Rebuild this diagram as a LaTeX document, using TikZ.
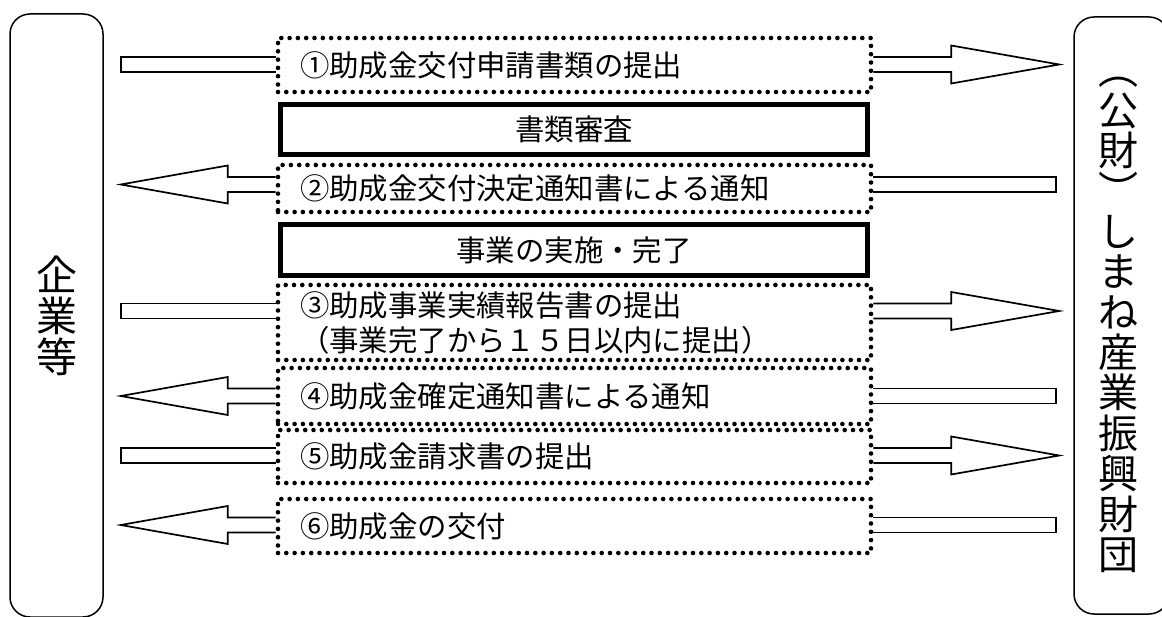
\documentclass[tikz,border=0pt]{standalone}
\usepackage{fontspec}
\setmainfont{Noto Sans CJK JP}
\usetikzlibrary{calc}
\tikzset{
	party/.style={draw, line width=1.5pt, rounded corners=20pt, align=center,
		font=\fontsize{41}{41}\selectfont},
	stepbox/.style={draw, line width=4.6pt, dash pattern=on 0pt off 8.3pt, line cap=round,
		text width=549pt, inner xsep=22pt, inner ysep=2pt, align=left,
		font=\fontsize{29.4}{35}\selectfont},
	checkbox/.style={draw, line width=5.5pt, minimum width=587pt, align=center,
		font=\fontsize{29.4}{35}\selectfont},
	shaft/.style={draw, line width=1.7pt, line join=miter}
}

\begin{document}
\begin{tikzpicture}[x=1pt, y=-1pt]
\useasboundingbox (0,0) rectangle (1162,617);
% the two parties
	\node[party, minimum width=93pt, minimum height=603pt] (firm) at (56.5,315.5) {企\\業\\等};
	\node[party, minimum width=95pt, minimum height=597pt] (fund) at (1121.5,315.5) {};
	\node[font=\fontsize{40}{40.4}\selectfont, align=center] (fundname) at (1118,325)
		{︵\\公\\財\\︶\\し\\ま\\ね\\産\\業\\振\\興\\財\\団};

% steps in the middle
	\node[stepbox, minimum height=54pt] (s1) at (574.5,65) {①助成金交付申請書類の提出};
	\node[checkbox, minimum height=50pt] (c1) at (574,129.5) {書類審査};
	\node[stepbox, minimum height=47pt] (s2) at (574.5,188.5) {②助成金交付決定通知書による通知};
	\node[checkbox, minimum height=51pt] (c2) at (574,250) {事業の実施・完了};
	\node[stepbox, minimum height=75pt] (s3) at (574.5,322.5) {③助成事業実績報告書の提出\\（事業完了から１５日以内に提出）};
	\node[stepbox, minimum height=56pt] (s4) at (574.5,396) {④助成金確定通知書による通知};
	\node[stepbox, minimum height=53pt] (s5) at (574.5,456.5) {⑤助成金請求書の提出};
	\node[stepbox, minimum height=54pt] (s6) at (574.5,526) {⑥助成金の交付};

% company -> fund
	\foreach \row/\y in {1/64.5, 3/311, 5/455.5} {
		\coordinate (a\row) at (0,\y);
		\draw[shaft] ($(s\row.west |- a\row)+(0,-7.5)$) -- ($(firm.east |- a\row)+(17,-7.5)$)
			-- ++(0,15) -- ($(s\row.west |- a\row)+(0,7.5)$);
		\draw[shaft] ($(s\row.east |- a\row)+(0,-7.5)$) -- ($(fund.west |- a\row)+(-122,-7.5)$)
			-- ++(0,-11.5) -- ($(fund.west |- a\row)+(-14,0)$) -- ($(fund.west |- a\row)+(-122,19)$)
			-- ++(0,-11.5) -- ($(s\row.east |- a\row)+(0,7.5)$);
	}
% fund -> company
	\foreach \row/\y in {2/184.5, 4/396, 6/525} {
		\coordinate (a\row) at (0,\y);
		\draw[shaft] ($(s\row.west |- a\row)+(0,-7.5)$) -- ($(firm.east |- a\row)+(124,-7.5)$)
			-- ++(0,-11.5) -- ($(firm.east |- a\row)+(17,0)$) -- ($(firm.east |- a\row)+(124,19)$)
			-- ++(0,-11.5) -- ($(s\row.west |- a\row)+(0,7.5)$);
		\draw[shaft] ($(s\row.east |- a\row)+(0,-7.5)$) -- ($(fund.west |- a\row)+(-17,-7.5)$)
			-- ++(0,15) -- ($(s\row.east |- a\row)+(0,7.5)$);
	}
\end{tikzpicture}
\end{document}
